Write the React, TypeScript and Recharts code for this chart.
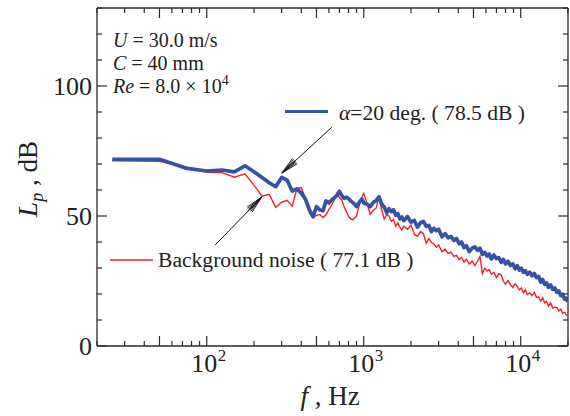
import { LineChart, Line, XAxis, YAxis, ReferenceLine } from "recharts";

// frequency bins, Hz
const FREQ = [
  25, 50, 75, 100, 125, 150, 175, 200, 225, 250, 275, 300, 325, 350, 375, 400, 425, 450, 475, 500,
  525, 550, 575, 600, 625, 650, 675, 700, 725, 750, 775, 800, 825, 850, 875, 900, 925, 950, 975,
  1000, 1050, 1100, 1150, 1200, 1250, 1300, 1350, 1400, 1450, 1500, 1550, 1600, 1650, 1700, 1750, 1800,
  1900, 2000, 2100, 2200, 2300, 2400, 2500, 2600, 2700, 2800, 2900, 3000,
  3150, 3300, 3450, 3600, 3750, 3900, 4050, 4200, 4350, 4500,
  4700, 4900, 5100, 5300, 5500, 5700, 5900, 6100, 6300, 6500,
  6750, 7000, 7250, 7500, 7750, 8000,
  8300, 8600, 8900, 9200, 9500, 9800, 10100, 10400, 10700,
  11000, 11400, 11800, 12200, 12600, 13000, 13400, 13800, 14200, 14600, 15000,
  15500, 16000, 16500, 17000, 17500, 18000, 18500, 19000, 19500, 20000,
];

// alpha = 20 deg, Lp dB
const ALPHA20 = [
  71.8, 71.8, 68.3, 67.3, 67.7, 67.0, 69.3, 67.0, 64.8, 62.8, 61.3, 64.8, 63.8, 59.6, 60.4, 58.8, 56.5, 52.5, 49.7, 53.6,
  52.3, 52.0, 55.8, 55.0, 56.2, 57.0, 58.0, 59.5, 57.8, 56.8, 57.2, 56.8, 55.8, 55.2, 54.5, 53.6, 54.8, 55.8, 56.5,
  55.0, 54.5, 53.6, 55.2, 56.0, 57.4, 54.6, 53.5, 51.2, 52.8, 51.7, 52.4, 50.3, 50.9, 48.9, 49.6, 48.2,
  49.8, 47.6, 48.3, 45.7, 47.4, 47.9, 46.0, 46.4, 44.0, 45.3, 44.3, 44.9,
  42.0, 43.2, 41.6, 42.1, 40.6, 41.4, 39.3, 40.0, 37.9, 38.6,
  36.3, 37.6, 38.1, 36.8, 37.6, 35.3, 36.0, 34.6, 35.4, 33.5,
  35.0, 33.6, 34.0, 32.2, 33.3, 31.6,
  32.6, 30.9, 31.6, 29.7, 30.9, 29.2, 29.9, 28.3, 29.0,
  27.6, 28.4, 27.0, 27.9, 26.3, 26.8, 24.6, 25.6, 23.7, 24.3, 22.6,
  23.5, 21.8, 22.3, 20.6, 21.2, 19.4, 19.9, 18.0, 18.4, 16.9,
];

// background noise, Lp dB
const BACKGROUND = [
  71.3, 71.0, 68.7, 66.8, 66.7, 64.9, 66.2, 61.9, 57.6, 58.3, 53.3, 55.3, 56.0, 53.8, 60.5, 60.9, 56.8, 51.2, 49.3, 50.2,
  50.6, 49.4, 50.5, 52.5, 54.2, 56.3, 58.7, 57.0, 56.2, 53.5, 51.7, 49.8, 49.0, 48.5, 49.3, 50.0, 53.0, 55.5, 57.5,
  58.7, 54.8, 50.6, 52.2, 53.0, 57.4, 52.5, 48.8, 50.6, 49.9, 47.9, 48.6, 46.1, 47.4, 45.6, 44.7, 46.0,
  44.9, 46.5, 43.0, 42.2, 44.0, 43.2, 39.5, 41.3, 39.8, 39.2, 38.0, 38.9,
  36.2, 37.2, 35.6, 36.1, 34.5, 34.9, 33.3, 34.0, 32.2, 33.4,
  31.5, 32.7, 30.9, 32.6, 34.4, 27.8, 29.9, 28.8, 29.4, 27.6,
  28.3, 26.3, 27.9, 27.4, 24.9, 23.8,
  25.2, 23.5, 22.5, 24.0, 23.0, 21.6, 22.3, 20.5, 21.6,
  19.8, 20.4, 19.4, 20.6, 18.7, 18.9, 17.2, 18.6, 16.6, 17.2, 15.4,
  16.6, 14.6, 15.0, 14.8, 13.5, 14.2, 12.6, 13.0, 12.0, 11.5,
];

const X_TICKS = [20, 30, 40, 50, 60, 70, 80, 90, 100, 200, 300, 400, 500, 600, 700, 800, 900,
  1000, 2000, 3000, 4000, 5000, 6000, 7000, 8000, 9000, 10000, 20000];
const X_LONG = [50, 100, 500, 1000, 5000, 10000];
const X_EXP: Record<number, string> = { 100: "2", 1000: "3", 10000: "4" };
const Y_TICKS = [0, 10, 20, 30, 40, 50, 60, 70, 80, 90, 100, 110, 120, 130];
const Y_LABELS = [0, 50, 100];

const data = FREQ.map((f, i) => ({ f, alpha: ALPHA20[i], bg: BACKGROUND[i] }));

const W = 570;
const H = 416;
const TOP = 8;
const BOTTOM = 346;
const LEFT = 97;
const RIGHT = 568;
const BLUE = "#3552a6";
const RED = "#f2202a";
const AXIS = "#2a2a2a";
const FONT = "Liberation Serif, Times New Roman, Times, serif";
const serif = { fontFamily: FONT };

if (typeof document !== "undefined") document.body.style.margin = "0";

const XTick = ({ x, payload }: any) => {
  const v = payload.value;
  const len = X_LONG.includes(v) ? 10 : 5;
  const exp = X_EXP[v];
  return (
    <g>
      <line x1={x} y1={BOTTOM} x2={x} y2={BOTTOM - len} stroke={AXIS} strokeWidth={1.2} />
      <line x1={x} y1={TOP} x2={x} y2={TOP + len} stroke={AXIS} strokeWidth={1.2} />
      {exp && (
        <>
          <text x={x + 10.5} y={372} textAnchor="end" fontSize={26} fill="#222" style={serif}>10</text>
          <text x={x + 11} y={361} fontSize={17} fill="#222" style={serif}>{exp}</text>
        </>
      )}
    </g>
  );
};

const YTick = ({ y, payload }: any) => {
  const v = payload.value;
  const major = Y_LABELS.includes(v);
  const len = major ? 10 : 5;
  return (
    <g>
      <line x1={LEFT} y1={y} x2={LEFT + len} y2={y} stroke={AXIS} strokeWidth={1.2} />
      <line x1={RIGHT} y1={y} x2={RIGHT - len} y2={y} stroke={AXIS} strokeWidth={1.2} />
      {major && (
        <text x={92} y={y + 9} textAnchor="end" fontSize={26} fill="#222" style={serif}>{v}</text>
      )}
    </g>
  );
};

// thin arrow with a fanned head at the segment end
const Arrow = (p: any) => {
  const { x1, y1, x2, y2 } = p;
  const a = Math.atan2(y1 - y2, x1 - x2);
  const heads = [-0.2, -0.12, -0.05, 0.05, 0.12, 0.2].map((s, i) => (
    <line key={i} x1={x2} y1={y2} x2={x2 + 18 * Math.cos(a + s)} y2={y2 + 18 * Math.sin(a + s)} stroke="#111" strokeWidth={0.9} />
  ));
  return (
    <g>
      <line x1={x1} y1={y1} x2={x2} y2={y2} stroke="#111" strokeWidth={1} />
      {heads}
    </g>
  );
};

export default function App() {
  return (
    <div style={{ position: "relative", width: W, height: H, background: "#fff" }}>
      <LineChart width={W} height={H} data={data} margin={{ top: TOP, right: W - RIGHT, bottom: 0, left: 0 }}>
        <XAxis
          dataKey="f"
          type="number"
          scale="log"
          domain={[20, 20000]}
          allowDataOverflow
          ticks={X_TICKS}
          interval={0}
          tick={(props: any) => <XTick {...props} />}
          tickLine={false}
          axisLine={{ stroke: AXIS, strokeWidth: 1.3 }}
          height={H - BOTTOM}
        />
        <YAxis
          type="number"
          domain={[0, 130]}
          ticks={Y_TICKS}
          interval={0}
          tick={(props: any) => <YTick {...props} />}
          tickLine={false}
          axisLine={{ stroke: AXIS, strokeWidth: 1.3 }}
          width={LEFT}
        />
        <ReferenceLine y={130} stroke={AXIS} strokeWidth={1.3} ifOverflow="visible" />
        <ReferenceLine x={20000} stroke={AXIS} strokeWidth={1.3} ifOverflow="visible" />
        <Line type="linear" dataKey="bg" stroke={RED} strokeWidth={1.4} dot={false} isAnimationActive={false} />
        <Line type="linear" dataKey="alpha" stroke={BLUE} strokeWidth={3.7} strokeLinejoin="round" dot={false} isAnimationActive={false} />
        <ReferenceLine segment={[{ x: 625, y: 84.1 }, { x: 301, y: 66.5 }]} shape={Arrow} ifOverflow="visible" />
        <ReferenceLine segment={[{ x: 113, y: 38.8 }, { x: 224, y: 57.3 }]} shape={Arrow} ifOverflow="visible" />
      </LineChart>

      <svg width={W} height={H} style={{ position: "absolute", left: 0, top: 0, pointerEvents: "none", fontFamily: FONT }} fill="#222">
        {/* test conditions */}
        <text x={113} y={47} fontSize={20}><tspan fontStyle="italic">U</tspan> = 30.0 m/s</text>
        <text x={113} y={70} fontSize={20}><tspan fontStyle="italic">C</tspan> = 40 mm</text>
        <text x={113} y={93} fontSize={20}>
          <tspan fontStyle="italic">Re</tspan> = 8.0 × 10<tspan dy={-8} fontSize={14}>4</tspan>
        </text>

        {/* legend entries */}
        <line x1={285} y1={111.5} x2={328} y2={111.5} stroke={BLUE} strokeWidth={3} />
        <text x={339} y={120} fontSize={21.6}><tspan fontStyle="italic">α</tspan>=20 deg. ( 78.5 dB )</text>
        <line x1={110} y1={260} x2={153} y2={260} stroke={RED} strokeWidth={1.3} />
        <text x={158} y={267} fontSize={21.6}>Background noise ( 77.1 dB )</text>

        {/* axis titles */}
        <text x={330} y={405} fontSize={27} textAnchor="middle"><tspan fontStyle="italic">f</tspan> , Hz</text>
        <text transform="translate(37,179) rotate(-90)" fontSize={27} textAnchor="middle">
          <tspan fontStyle="italic">L</tspan><tspan fontStyle="italic" fontSize={18} dy={6}>p</tspan><tspan dy={-6}> , dB</tspan>
        </text>
      </svg>
    </div>
  );
}
